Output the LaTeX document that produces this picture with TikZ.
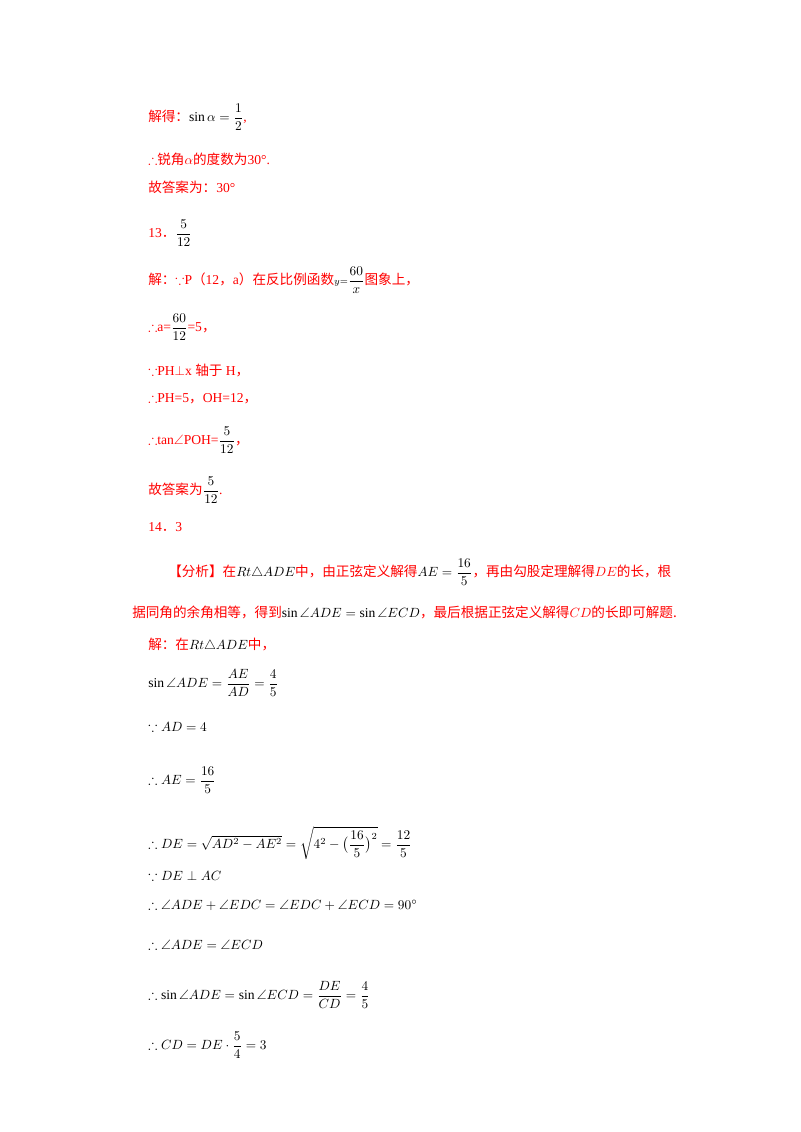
\documentclass[tikz,border=0pt]{standalone}
\usepackage{amsmath,amssymb}
\usepackage{fontspec}
\setmainfont{Liberation Serif}
\newfontfamily\cjk{Noto Sans CJK SC}
\newcommand{\zh}[1]{{\cjk #1}}
\begin{document}
\begin{tikzpicture}[x=0.75pt,y=-0.75pt,
  t/.style={anchor=west,inner sep=0pt,font=\fontsize{10.2}{12}\selectfont,text=red}]
\useasboundingbox (0,0) rectangle (800,1132);
\node[t] (l1) at (148,117) {\zh{解得：}\textcolor{black}{$\sin\alpha=\dfrac{1}{2}$},};
\node[t] (l2) at (148,159) {$\therefore$\zh{锐角}$\alpha$\zh{的度数为}30°.};
\node[t] (l3) at (148,187) {\zh{故答案为：}30°};
\node[t] (l4) at (148,233) {13\zh{．}\textcolor{black}{$\dfrac{5}{12}$}};
\node[t] (l5) at (148,280) {\zh{解：}$\because$P\zh{（}12\zh{，}a\zh{）在反比例函数}\textcolor{black}{$\scriptstyle y=\dfrac{60}{x}$}\zh{图象上，}};
\node[t] (l6) at (148,327) {$\therefore$a=\textcolor{black}{$\dfrac{60}{12}$}=5\zh{，}};
\node[t] (l7) at (148,371) {$\because$PH$\perp$x \zh{轴于} H\zh{，}};
\node[t] (l8) at (148,399) {$\therefore$PH=5\zh{，}OH=12\zh{，}};
\node[t] (l9) at (148,440) {$\therefore$tan$\angle$POH=\textcolor{black}{$\dfrac{5}{12}$}\zh{，}};
\node[t] (l10) at (148,490) {\zh{故答案为}\textcolor{black}{$\dfrac{5}{12}$}.};
\node[t] (l11) at (148,527) {14\zh{．}3};
\node[t] (l12) at (168,572) {\zh{【分析】在}\textcolor{black}{$Rt\triangle ADE$}\zh{中，由正弦定义解得}\textcolor{black}{$AE=\dfrac{16}{5}$}\zh{，再由勾股定理解得}$DE$\zh{的长，根}};
\node[t] (l13) at (132,612) {\zh{据同角的余角相等，得到}\textcolor{black}{$\sin\angle ADE=\sin\angle ECD$}\zh{，最后根据正弦定义解得}$CD$\zh{的长即可解题.}};
\node[t] (l14) at (148,645) {\zh{解：在}\textcolor{black}{$Rt\triangle ADE$}\zh{中，}};
\begin{scope}[every node/.style={t,text=black}]
\node (m1) at (148,683) {$\sin\angle ADE=\dfrac{AE}{AD}=\dfrac{4}{5}$};
\node (m2) at (148,727) {$\because AD=4$};
\node (m3) at (148,780) {$\therefore AE=\dfrac{16}{5}$};
\node (m4) at (148,843) {$\therefore DE=\sqrt{AD^2-AE^2}=\sqrt{4^2-\bigl(\dfrac{16}{5}\bigr)^2}=\dfrac{12}{5}$};
\node (m5) at (148,876) {$\because DE\perp AC$};
\node (m6) at (148,905) {$\therefore \angle ADE+\angle EDC=\angle EDC+\angle ECD=90^\circ$};
\node (m7) at (148,945) {$\therefore \angle ADE=\angle ECD$};
\node (m8) at (148,995) {$\therefore \sin\angle ADE=\sin\angle ECD=\dfrac{DE}{CD}=\dfrac{4}{5}$};
\node (m9) at (148,1045) {$\therefore CD=DE\cdot\dfrac{5}{4}=3$};
\end{scope}
\end{tikzpicture}
\end{document}
